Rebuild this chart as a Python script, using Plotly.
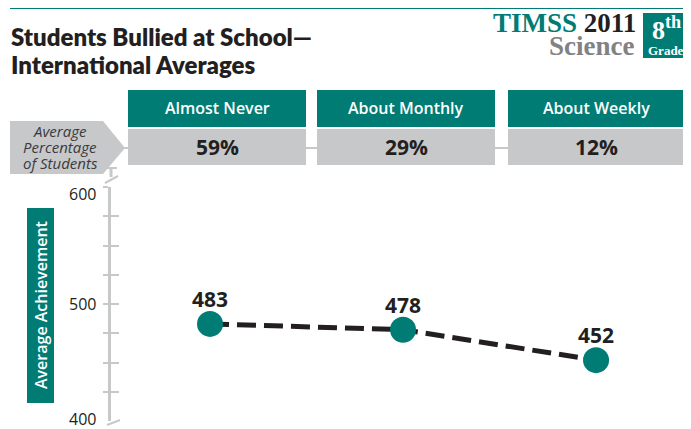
import plotly.graph_objects as go

# data
categories = ["Almost Never", "About Monthly", "About Weekly"]
percent_students = ["59%", "29%", "12%"]
avg_achievement = [483, 478, 452]
axis_labels = [600, 500, 400]
axis_ticks = [425, 450, 475, 500, 525, 550, 575, 600]

TEAL = "#007c75"
GRAY = "#c7c8ca"
INK = "#231f20"
SANS = "Open Sans, Liberation Sans, sans-serif"
TITLE = "Lato, Open Sans, sans-serif"
SERIF = "Liberation Serif, DejaVu Serif, serif"

# the page body adds an 8px offset, so work in window pixels and shift
OFF = 8
W, H = 691 - OFF, 429 - OFF
# plot area in window pixels: x 111..691, y 187..421
L, R, T, B = 111, 691, 187, 421


def px(x):
    return (x - L) / (R - L)


def py(y):
    return (B - y) / (B - T)


def rect(x0, y0, x1, y1, color):
    return dict(type="rect", xref="paper", yref="paper", x0=px(x0), x1=px(x1),
                y0=py(y1), y1=py(y0), fillcolor=color, line=dict(width=0), layer="below")


def seg(x0, y0, x1, y1, color=GRAY, width=2):
    return dict(type="line", xref="paper", yref="paper", x0=px(x0), x1=px(x1),
                y0=py(y0), y1=py(y1), line=dict(color=color, width=width))


def label(text, x, y, size, color=INK, family=SANS, weight="bold", xanchor="center", **kw):
    return dict(text=text, xref="paper", yref="paper", x=px(x), y=py(y), showarrow=False,
                xanchor=xanchor, yanchor="middle",
                font=dict(family=family, size=size, color=color, weight=weight), **kw)


fig = go.Figure()

fig.add_trace(go.Scatter(
    x=categories, y=avg_achievement, mode="lines",
    line=dict(color=INK, width=5, dash="19px,8px"),
    hoverinfo="skip", showlegend=False))

fig.add_trace(go.Scatter(
    x=categories, y=avg_achievement, mode="markers",
    marker=dict(color=TEAL, size=26),
    cliponaxis=False, showlegend=False))

# inner half of the cross ticks
fig.add_trace(go.Scatter(x=[categories[0]], y=[avg_achievement[0]], yaxis="y2",
                         mode="markers", marker=dict(opacity=0), hoverinfo="skip",
                         showlegend=False))

shapes = []
annotations = []

# value labels above the points
for cat, v in zip(categories, avg_achievement):
    annotations.append(dict(text=str(v), x=cat, y=v, xref="x", yref="y", yshift=25,
                            showarrow=False, xanchor="center", yanchor="middle",
                            font=dict(family=SANS, size=21, color=INK, weight="bold")))

# top rule
shapes.append(seg(10, 8, 691, 8, color=TEAL, width=2))

# connector through the percentage row
shapes.append(seg(122, 148, 691, 148, width=2))

# left pentagon label
pts = [(10, 121), (103, 121), (125, 148), (103, 174), (10, 174)]
path = "M " + " L ".join(f"{px(x)},{py(y)}" for x, y in pts) + " Z"
shapes.append(dict(type="path", xref="paper", yref="paper", path=path,
                   fillcolor=GRAY, line=dict(width=0)))
for txt, yy in [("Average", 131), ("Percentage", 147), ("of Students", 163)]:
    annotations.append(dict(text=f"<i>{txt}</i>", xref="paper", yref="paper",
                            x=px(60), y=py(yy), showarrow=False,
                            xanchor="center", yanchor="middle",
                            font=dict(family=SANS, size=15, color="#3a3a3c")))

# header boxes
box_x = [(128, 306), (317, 495), (508, 685)]
for (x0, x1), cat, pct in zip(box_x, categories, percent_students):
    shapes.append(rect(x0, 90, x1, 127, TEAL))
    shapes.append(rect(x0, 129, x1, 165, GRAY))
    annotations.append(label(cat, (x0 + x1) / 2, 108, 16, color="white", weight=600))
    annotations.append(label(pct, (x0 + x1) / 2, 147, 21))

# axis break marks
shapes.append(seg(111, 168, 111, 177, width=3))
shapes.append(seg(106, 168, 117, 168, width=2))
shapes.append(seg(105, 183, 118, 176, width=2))
shapes.append(seg(107, 425, 120, 420, width=2))

# axis title box
shapes.append(rect(27, 208, 54, 403, TEAL))
annotations.append(label("Average Achievement", 41, 305, 16, color="white", weight=600,
                         textangle=-90))

# y tick labels
shift = {600: -7, 500: 0, 400: 2}
for v in axis_labels:
    annotations.append(dict(text=str(v), xref="paper", yref="y", x=px(98), y=v,
                            yshift=shift[v], showarrow=False,
                            xanchor="right", yanchor="middle",
                            font=dict(family=SANS, size=16, color=INK)))

# title
annotations.append(label("Students Bullied at School\u2014", 9, 36, 24, family=TITLE,
                         weight=800, xanchor="left"))
annotations.append(label("International Averages", 9, 64, 24, family=TITLE,
                         weight=800, xanchor="left"))

# logo
annotations.append(dict(text=f"<span style='color:{TEAL}'>TIMSS</span> 2011",
                        xref="paper", yref="paper", x=px(638), y=py(23), showarrow=False,
                        xanchor="right", yanchor="middle",
                        font=dict(family=SERIF, size=27, color=INK, weight="bold")))
annotations.append(label("Science", 636, 46, 27, color="#808285", family=SERIF,
                         xanchor="right"))
shapes.append(rect(643, 13, 690, 58, TEAL))
annotations.append(label("8<sup>th</sup>", 666, 28, 26, color="white", family=SERIF))
annotations.append(label("Grade", 666, 50, 13, color="white", family=SERIF))

fig.update_layout(
    width=W, height=H,
    margin=dict(l=L - OFF, r=691 - R, t=T - OFF, b=429 - B, pad=0),
    paper_bgcolor="white", plot_bgcolor="white",
    xaxis=dict(range=[-0.513, 2.492], showgrid=False, zeroline=False, showline=False,
               showticklabels=False, ticks="", fixedrange=True),
    yaxis=dict(range=[400, 600], showgrid=False, zeroline=False, showline=True,
               linecolor=GRAY, linewidth=3, tickmode="array", tickvals=axis_ticks,
               ticks="outside", ticklen=5, tickwidth=2, tickcolor=GRAY,
               showticklabels=False),
    yaxis2=dict(range=[400, 600], overlaying="y", side="left", showgrid=False,
                zeroline=False, showline=False, tickmode="array", tickvals=axis_ticks,
                ticks="inside", ticklen=8, tickwidth=2, tickcolor=GRAY,
                showticklabels=False),
    shapes=shapes,
    annotations=annotations,
)

fig.write_html("out.html")
